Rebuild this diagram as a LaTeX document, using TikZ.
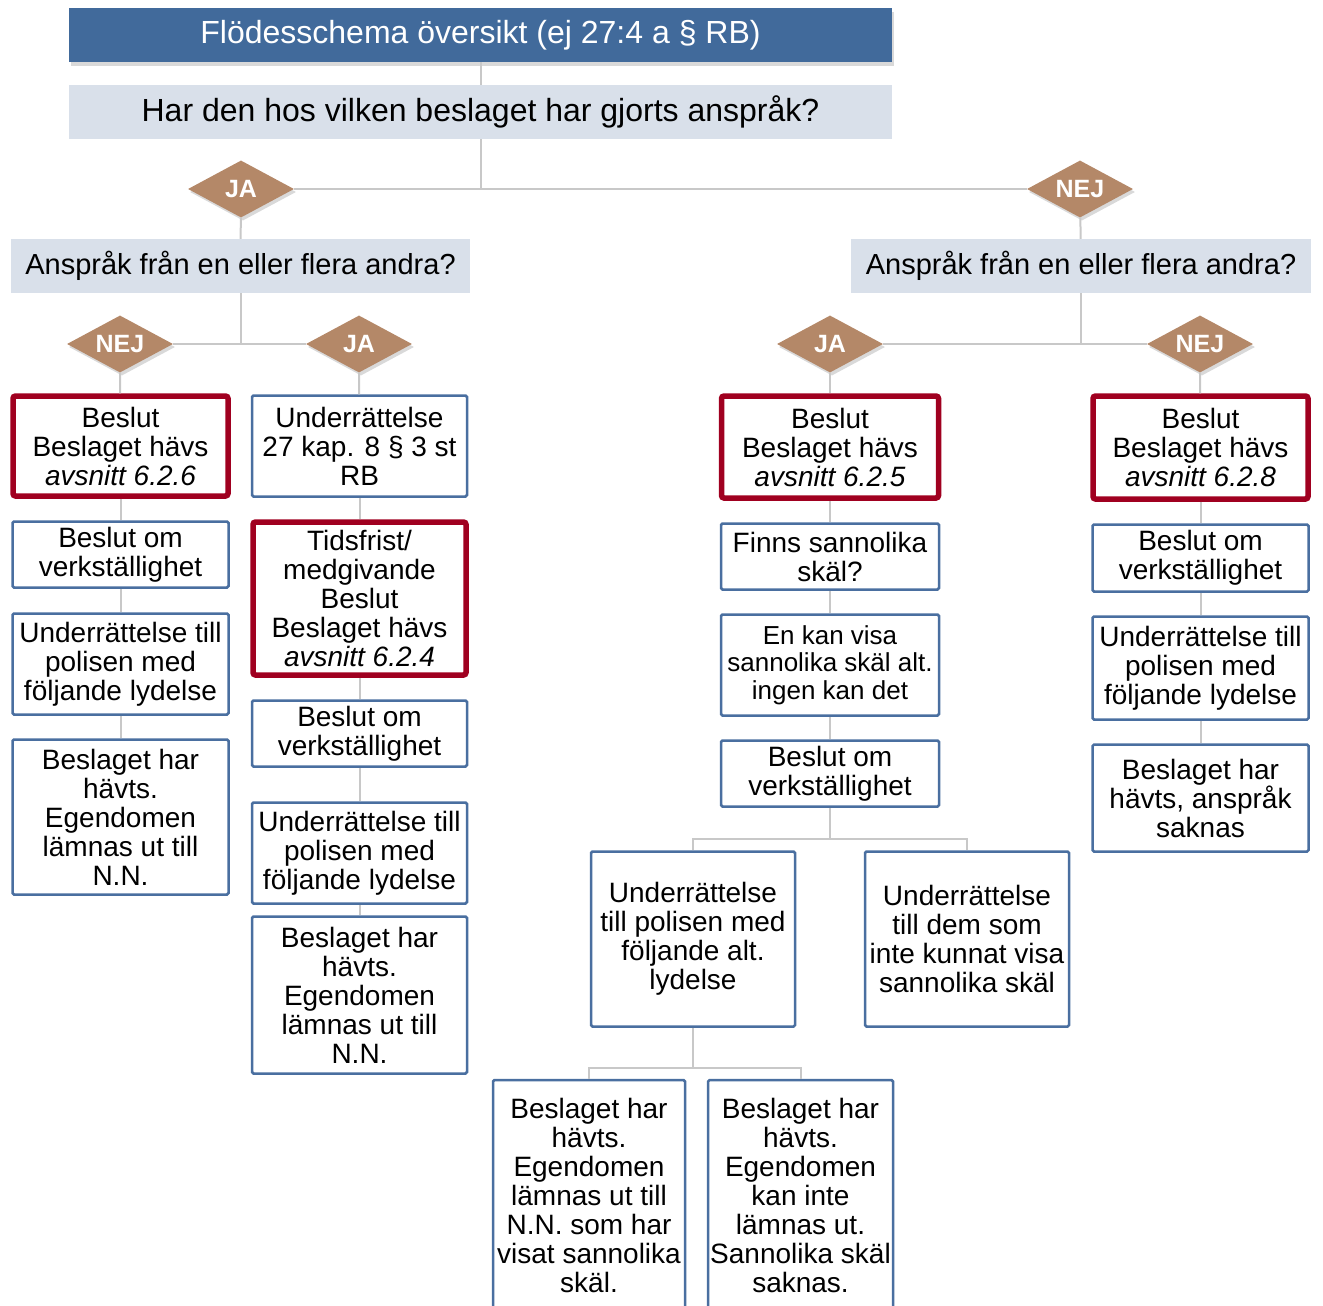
\documentclass[tikz,border=0pt]{standalone}
\usepackage{fontspec}
\setmainfont{Liberation Sans}
\usetikzlibrary{shapes.geometric,shadows}
\definecolor{titleblue}{RGB}{65,106,155}
\definecolor{qfill}{RGB}{217,224,234}
\definecolor{ansbrown}{RGB}{180,136,104}
\definecolor{beslred}{RGB}{160,0,32}
\definecolor{boxblue}{RGB}{74,111,160}
\definecolor{linegrey}{RGB}{200,200,200}
\tikzset{
  conn/.style={draw=linegrey, line width=2pt},
  sz/.style 2 args={minimum width=#1pt, minimum height=#2pt},
  titlebox/.style={fill=titleblue, text=white, inner sep=0pt,
    font=\fontsize{32}{36}\selectfont,
    drop shadow={shadow xshift=2pt, shadow yshift=-4pt, opacity=0.3}},
  qbox/.style={fill=qfill, inner sep=0pt, font=\fontsize{32}{36}\selectfont},
  subq/.style={qbox, font=\fontsize{29}{32}\selectfont},
  answer/.style={diamond, aspect=1.86, fill=ansbrown, text=white, inner sep=0pt,
    minimum width=106pt, minimum height=57pt,
    font=\bfseries\fontsize{25}{28}\selectfont,
    drop shadow={shadow xshift=2pt, shadow yshift=-3pt, opacity=0.3}},
  infobox/.style={draw=boxblue, line width=2.5pt, fill=white, align=center,
    inner sep=0pt, rounded corners=1.5pt, font=\fontsize{28}{29}\selectfont},
  beslbox/.style={infobox, draw=beslred, line width=5.5pt, rounded corners=2.5pt},
}
\begin{document}
\begin{tikzpicture}[x=1pt, y=-1pt]
	\clip (0,0) rectangle (1323,1306);
	% Header and first question
	\node[titlebox, sz={823}{54}] (title) at (480.5,35) {Flödesschema översikt (ej 27:4 a § RB)};
	\node[qbox, sz={823}{54}] (q) at (480.5,112) {Har den hos vilken beslaget har gjorts anspråk?};
	\node[answer] (ja0) at (241,189) {JA};
	\node[answer] (nej0) at (1080,189) {NEJ};
	\draw[conn] (title) -- (q);
	\draw[conn] (q) |- (ja0);
	\draw[conn] (q) |- (nej0);
	% Second questions
	\node[subq, sz={459}{54}] (fr1) at (240.5,266) {Anspråk från en eller flera andra?};
	\node[subq, sz={460}{54}] (fr2) at (1081,266) {Anspråk från en eller flera andra?};
	\draw[conn] (ja0) -- (fr1);
	\draw[conn] (nej0) -- (fr2);
	\node[answer] (nej1) at (120,344) {NEJ};
	\node[answer] (ja1) at (359,344) {JA};
	\node[answer] (ja2) at (830,344) {JA};
	\node[answer] (nej2) at (1200,344) {NEJ};
	\draw[conn] (fr1) |- (nej1);
	\draw[conn] (fr1) |- (ja1);
	\draw[conn] (fr2) |- (ja2);
	\draw[conn] (fr2) |- (nej2);
	% Column 1
	\node[beslbox, sz={215}{100}] (c1a) at (120.5,446) {Beslut\\Beslaget hävs\\\textit{avsnitt 6.2.6}};
	\node[infobox, sz={216}{66}] (c1b) at (120.5,554.5) {Beslut om\\verkställighet};
	\node[infobox, sz={216}{101}] (c1c) at (120.5,664) {Underrättelse till\\polisen med\\följande lydelse};
	\node[infobox, sz={216}{155}] (c1d) at (120.5,817) {Beslaget har\\hävts.\\Egendomen\\lämnas ut till\\N.N.};
	\draw[conn] (nej1) -- (c1a);
	\draw[conn] (c1a) -- (c1b);
	\draw[conn] (c1b) -- (c1c);
	\draw[conn] (c1c) -- (c1d);
	% Column 2
	\node[infobox, sz={215}{101}] (c2a) at (359.5,446) {Underrättelse\\27 kap. 8 § 3 st\\RB};
	\node[beslbox, sz={213}{153}] (c2b) at (359.5,598.5) {Tidsfrist/\\medgivande\\Beslut\\Beslaget hävs\\\textit{avsnitt 6.2.4}};
	\node[infobox, sz={215}{66}] (c2c) at (359.5,733.5) {Beslut om\\verkställighet};
	\node[infobox, sz={215}{101}] (c2d) at (359.5,853) {Underrättelse till\\polisen med\\följande lydelse};
	\node[infobox, sz={215}{157}] (c2e) at (359.5,995) {Beslaget har\\hävts.\\Egendomen\\lämnas ut till\\N.N.};
	\draw[conn] (ja1) -- (c2a);
	\draw[conn] (c2a) -- (c2b);
	\draw[conn] (c2b) -- (c2c);
	\draw[conn] (c2c) -- (c2d);
	\draw[conn] (c2d) -- (c2e);
	% Column 3
	\node[beslbox, sz={217}{102}] (c3a) at (830,447) {Beslut\\Beslaget hävs\\\textit{avsnitt 6.2.5}};
	\node[infobox, sz={218}{66}] (c3b) at (830,556.5) {Finns sannolika\\skäl?};
	\node[infobox, sz={218}{101}, font=\fontsize{26}{27.5}\selectfont] (c3c) at (830,665) {En kan visa\\sannolika skäl alt.\\ingen kan det};
	\node[infobox, sz={218}{66}] (c3d) at (830,773.5) {Beslut om\\verkställighet};
	\node[infobox, sz={204}{175}] (c3e) at (693,939) {Underrättelse\\till polisen med\\följande alt.\\lydelse};
	\node[infobox, sz={204}{175}] (c3f) at (967,939) {Underrättelse\\till dem som\\inte kunnat visa\\sannolika skäl};
	\node[infobox, sz={192}{230}] (c3g) at (589,1195) {Beslaget har\\hävts.\\Egendomen\\lämnas ut till\\N.N. som har\\visat sannolika\\skäl.};
	\node[infobox, sz={185}{230}] (c3h) at (800.5,1195) {Beslaget har\\hävts.\\Egendomen\\kan inte\\lämnas ut.\\Sannolika skäl\\saknas.};
	\coordinate (s3) at (830,839);
	\coordinate (s4) at (693,1068);
	\draw[conn] (ja2) -- (c3a);
	\draw[conn] (c3a) -- (c3b);
	\draw[conn] (c3b) -- (c3c);
	\draw[conn] (c3c) -- (c3d);
	\draw[conn] (c3d) -- (s3) -| (c3e);
	\draw[conn] (s3) -| (c3f);
	\draw[conn] (c3e) -- (s4) -| (c3g);
	\draw[conn] (s4) -| (c3h);
	% Column 4
	\node[beslbox, sz={215}{103}] (c4a) at (1200.5,447.5) {Beslut\\Beslaget hävs\\\textit{avsnitt 6.2.8}};
	\node[infobox, sz={216}{67}] (c4b) at (1200.5,558) {Beslut om\\verkställighet};
	\node[infobox, sz={216}{103}] (c4c) at (1200.5,668) {Underrättelse till\\polisen med\\följande lydelse};
	\node[infobox, sz={216}{107}] (c4d) at (1200.5,798) {Beslaget har\\hävts, anspråk\\saknas};
	\draw[conn] (nej2) -- (c4a);
	\draw[conn] (c4a) -- (c4b);
	\draw[conn] (c4b) -- (c4c);
	\draw[conn] (c4c) -- (c4d);
\end{tikzpicture}
\end{document}
